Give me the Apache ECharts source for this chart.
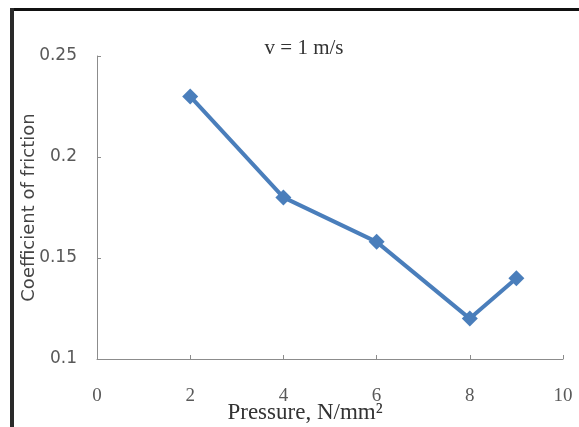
<!DOCTYPE html>
<html>
<head>
<meta charset="utf-8">
<script src="https://cdn.jsdelivr.net/npm/echarts@6/dist/echarts.min.js"></script>
<style>html,body{margin:0;padding:0;background:#fff}#c{width:579px;height:427px}</style>
</head>
<body>
<div id="c"></div>
<script>
var pressure = [2, 4, 6, 8, 9];
var friction = [0.23, 0.18, 0.158, 0.12, 0.14];
var titleText = 'v = 1 m/s';
var xName = 'Pressure, N/mm²';
var yName = 'Coefficient of friction';

var chart = echarts.init(document.getElementById('c'));
var axisGray = '#8c8c8c';
chart.setOption({
  animation: false,
  backgroundColor: '#fff',
  title: {
    text: titleText,
    left: 299, top: 33, textAlign: 'center',
    textStyle: {fontFamily: 'Liberation Serif', fontSize: 21, fontWeight: 'normal', color: '#333'}
  },
  grid: {left: 97, right: 16, top: 56, bottom: 68, containLabel: false, outerBoundsMode: 'none'},
  xAxis: {
    type: 'value', min: 0, max: 10, interval: 2,
    axisLine: {show: true, lineStyle: {color: axisGray}},
    axisTick: {show: true, inside: true, length: 4, lineStyle: {color: axisGray}},
    splitLine: {show: false},
    axisLabel: {margin: 28, fontFamily: 'Liberation Serif', fontSize: 19, color: '#595959'},
    name: xName, nameLocation: 'middle', nameGap: 42, nameMoveOverlap: false,
    nameTextStyle: {fontFamily: 'Liberation Serif', fontSize: 23, color: '#333', padding: [0, 50, 0, 0]}
  },
  yAxis: {
    type: 'value', min: 0.1, max: 0.25, interval: 0.05,
    axisLine: {show: true, lineStyle: {color: axisGray}},
    axisTick: {show: true, inside: true, length: 4, lineStyle: {color: axisGray}},
    splitLine: {show: false},
    axisLabel: {margin: 20, fontFamily: 'DejaVu Sans', fontSize: 17, color: '#595959'},
    name: yName, nameLocation: 'middle', nameGap: 59, nameRotate: 90, nameMoveOverlap: false,
    nameTextStyle: {fontFamily: 'DejaVu Sans', fontSize: 18, color: '#444'}
  },
  series: [{
    type: 'line',
    data: pressure.map(function (p, i) { return [p, friction[i]]; }),
    symbol: 'diamond', symbolSize: 16,
    lineStyle: {color: '#4a7ebb', width: 4},
    itemStyle: {color: '#4a7ebb'}
  }],
  graphic: [
    {type: 'line', shape: {x1: 10, y1: 9.5, x2: 579, y2: 9.5}, style: {stroke: '#111', lineWidth: 3}},
    {type: 'line', shape: {x1: 12, y1: 8, x2: 12, y2: 427}, style: {stroke: '#2a2a2a', lineWidth: 4}}
  ]
});
</script>
</body>
</html>
